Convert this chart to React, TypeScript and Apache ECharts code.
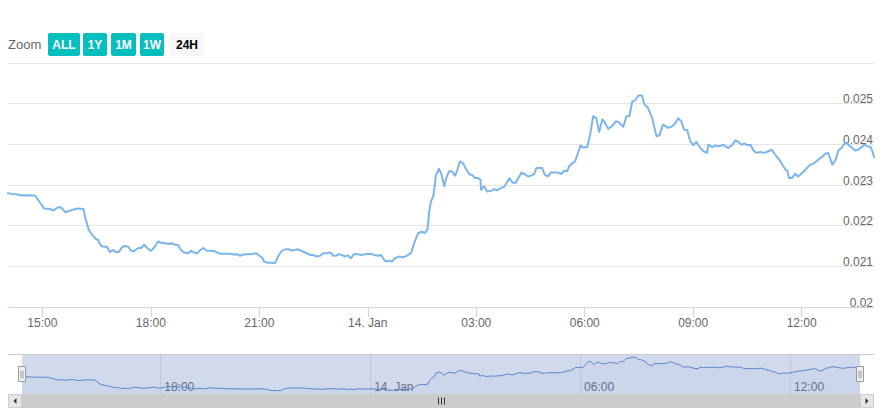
import React, { useEffect, useRef } from "react";
import * as echarts from "echarts";

// ---- data ----
const times = [
  "14:03","14:10","14:18","14:26","14:31","14:43","14:48","14:56","14:59","15:03",
  "15:13","15:18","15:24","15:29","15:33","15:38","15:46","15:54","15:59","16:08",
  "16:12","16:17","16:24","16:29","16:32","16:37","16:42","16:47","16:52","16:57",
  "17:02","17:07","17:12","17:17","17:22","17:27","17:32","17:39","17:44","17:49",
  "17:54","18:00","18:05","18:12","18:17","18:24","18:29","18:35","18:40","18:45",
  "18:50","18:55","19:02","19:07","19:12","19:17","19:22","19:27","19:32","19:38",
  "19:45","19:50","19:55","20:03","20:12","20:17","20:23","20:28","20:33","20:40",
  "20:45","20:50","20:55","21:00","21:05","21:08","21:13","21:21","21:26","21:31",
  "21:36","21:43","21:49","21:54","21:59","22:04","22:11","22:16","22:24","22:29",
  "22:36","22:41","22:46","22:53","22:58","23:03","23:07","23:12","23:17","23:22",
  "23:27","23:32","23:37","23:44","23:49","23:54","00:01","00:07","00:12","00:17",
  "00:22","00:26","00:30","00:35","00:40","00:45","00:52","00:59","01:02","01:07",
  "01:12","01:17","01:20","01:24","01:30","01:35","01:39","01:42","01:45","01:49",
  "01:53","01:58","02:02","02:07","02:10","02:15","02:20","02:25","02:28","02:33",
  "02:38","02:42","02:47","02:50","02:53","02:58","03:03","03:07","03:08","03:13",
  "03:18","03:25","03:30","03:35","03:41","03:46","03:51","03:55","04:00","04:05",
  "04:10","04:15","04:20","04:26","04:31","04:36","04:40","04:44","04:49","04:54",
  "04:59","05:04","05:09","05:14","05:21","05:26","05:31","05:34","05:39","05:44",
  "05:48","05:53","05:57","06:04","06:09","06:14","06:19","06:24","06:29","06:32",
  "06:39","06:46","06:52","06:57","07:04","07:09","07:14","07:19","07:22","07:29",
  "07:35","07:39","07:44","07:52","07:59","08:04","08:10","08:17","08:24","08:30",
  "08:35","08:40","08:45","08:50","08:55","09:00","09:05","09:12","09:17","09:23",
  "09:25","09:32","09:37","09:42","09:50","09:53","09:58","10:05","10:10","10:15",
  "10:20","10:25","10:30","10:35","10:40","10:45","10:51","10:58","11:05","11:10",
  "11:16","11:23","11:28","11:33","11:36","11:39","11:44","11:49","11:54","11:59",
  "12:04","12:09","12:14","12:19","12:24","12:29","12:34","12:39","12:44","12:48",
  "12:51","12:56","13:01","13:06","13:11","13:14","13:19","13:24","13:29","13:34",
  "13:41","13:44","13:49","13:54","13:57","14:00",
];
const values = [
  0.02280,0.02278,0.02277,0.02274,0.02275,0.02274,0.02274,0.02257,0.02251,0.02242,
  0.02241,0.02237,0.02243,0.02246,0.02242,0.02233,0.02237,0.02241,0.02242,0.02241,
  0.02216,0.02190,0.02175,0.02167,0.02166,0.02151,0.02148,0.02148,0.02135,0.02140,
  0.02135,0.02135,0.02147,0.02150,0.02149,0.02139,0.02137,0.02145,0.02145,0.02153,
  0.02145,0.02138,0.02145,0.02161,0.02158,0.02157,0.02155,0.02157,0.02153,0.02153,
  0.02140,0.02134,0.02132,0.02138,0.02134,0.02132,0.02140,0.02145,0.02139,0.02138,
  0.02138,0.02134,0.02131,0.02131,0.02131,0.02129,0.02130,0.02126,0.02129,0.02130,
  0.02130,0.02131,0.02132,0.02126,0.02121,0.02112,0.02109,0.02109,0.02108,0.02124,
  0.02136,0.02142,0.02142,0.02139,0.02140,0.02142,0.02137,0.02134,0.02128,0.02128,
  0.02124,0.02126,0.02132,0.02132,0.02134,0.02126,0.02126,0.02130,0.02128,0.02124,
  0.02127,0.02120,0.02130,0.02130,0.02128,0.02129,0.02131,0.02130,0.02127,0.02126,
  0.02128,0.02118,0.02112,0.02114,0.02112,0.02120,0.02124,0.02122,0.02124,0.02128,
  0.02133,0.02157,0.02169,0.02182,0.02185,0.02182,0.02191,0.02235,0.02260,0.02274,
  0.02323,0.02340,0.02327,0.02297,0.02317,0.02334,0.02333,0.02323,0.02334,0.02358,
  0.02354,0.02342,0.02330,0.02325,0.02325,0.02317,0.02317,0.02313,0.02288,0.02297,
  0.02284,0.02286,0.02290,0.02287,0.02293,0.02295,0.02306,0.02317,0.02306,0.02305,
  0.02317,0.02330,0.02327,0.02321,0.02323,0.02327,0.02342,0.02342,0.02342,0.02325,
  0.02321,0.02331,0.02331,0.02331,0.02327,0.02335,0.02334,0.02346,0.02353,0.02358,
  0.02375,0.02397,0.02393,0.02393,0.02424,0.02469,0.02465,0.02430,0.02461,0.02457,
  0.02438,0.02446,0.02457,0.02454,0.02443,0.02469,0.02469,0.02506,0.02506,0.02520,
  0.02520,0.02498,0.02492,0.02465,0.02420,0.02422,0.02449,0.02441,0.02443,0.02451,
  0.02464,0.02457,0.02436,0.02435,0.02408,0.02398,0.02406,0.02391,0.02383,0.02379,
  0.02399,0.02393,0.02397,0.02395,0.02399,0.02395,0.02391,0.02399,0.02410,0.02406,
  0.02399,0.02402,0.02398,0.02399,0.02385,0.02379,0.02381,0.02379,0.02383,0.02387,
  0.02375,0.02362,0.02350,0.02338,0.02336,0.02317,0.02317,0.02328,0.02321,0.02327,
  0.02334,0.02342,0.02350,0.02352,0.02358,0.02364,0.02369,0.02377,0.02379,0.02362,
  0.02350,0.02361,0.02385,0.02391,0.02402,0.02404,0.02397,0.02391,0.02385,0.02387,
  0.02395,0.02399,0.02395,0.02394,0.02385,0.02369,
];
const rangeTimes = ["14:03", "14:00"]; // 13 Jan 14:03 -> 14 Jan 14:00
const axisTickTimes = ["15:00", "18:00", "21:00", "00:00", "03:00", "06:00", "09:00", "12:00"];
const axisTickLabels = ["15:00", "18:00", "21:00", "14. Jan", "03:00", "06:00", "09:00", "12:00"];
const navTickTimes = ["18:00", "00:00", "06:00", "12:00"];
const navTickLabels = ["18:00", "14. Jan", "06:00", "12:00"];
const yMin = 0.02;
const yMax = 0.026;
const yStep = 0.001;
const zoomLabel = "Zoom";
const zoomButtons = ["ALL", "1Y", "1M", "1W", "24H"];
const selectedButton = "24H";

// minutes since 13 Jan 00:00, rolling over midnight
function toMinutes(list: string[]): number[] {
  let day = 0;
  let prev = -1;
  return list.map((t) => {
    const [h, m] = t.split(":").map(Number);
    const v = h * 60 + m;
    if (v < prev) day++;
    prev = v;
    return v + day * 1440;
  });
}

const FONT = '"Liberation Sans", Arial, Helvetica, sans-serif';

export default function App() {
  const ref = useRef<HTMLDivElement>(null);
  useEffect(() => {
    if (!ref.current) return;
    const chart = echarts.init(ref.current, undefined, { renderer: "svg" });
    const xs = toMinutes(times);
    const data = xs.map((x, i) => [x, values[i]]);
    const [xMin, xMax] = toMinutes(rangeTimes);
    const tickVals = toMinutes(axisTickTimes);
    const navVals = toMinutes(navTickTimes);
    const vMin = Math.min(...values);
    const vMax = Math.max(...values);
    const pad = (vMax - vMin) * 0.1;

    // layout
    const plotL = 8, plotR = 874, plotT = 63, plotB = 307;
    const navL = 22, navR = 860, navT = 354, navH = 40;
    const sbT = navT + navH, sbH = 14;

    const btnX = [48, 83, 111, 140, 170];
    const btnW = [32, 24, 25, 24, 34];
    const btnY = 33, btnH = 23;
    const graphics: any[] = [
      {
        type: "text",
        x: 8,
        y: btnY + btnH / 2,
        style: {
          text: zoomLabel, fill: "#666666", font: `13px ${FONT}`,
          align: "left", verticalAlign: "middle", textAlign: "left", textVerticalAlign: "middle",
        },
      },
    ];
    zoomButtons.forEach((b, i) => {
      const sel = b === selectedButton;
      graphics.push({
        type: "rect",
        shape: { x: btnX[i], y: btnY, width: btnW[i], height: btnH, r: 2 },
        style: { fill: sel ? "#f7f7f7" : "#05bebe" },
      });
      graphics.push({
        type: "text",
        x: btnX[i] + btnW[i] / 2,
        y: btnY + btnH / 2 + 0.5,
        style: {
          text: b, fill: sel ? "#000000" : "#ffffff", font: `bold 12px ${FONT}`,
          align: "center", verticalAlign: "middle", textAlign: "center", textVerticalAlign: "middle",
        },
      });
    });
    // navigator outline & mask
    graphics.push({
      type: "line", z: 12,
      shape: { x1: plotL, y1: navT + 0.5, x2: plotR, y2: navT + 0.5 },
      style: { stroke: "#cccccc", lineWidth: 1 },
    });
    graphics.push({
      type: "rect", z: 10,
      shape: { x: navL, y: navT, width: navR - navL, height: navH },
      style: { fill: "rgba(102,133,194,0.3)" },
    });
    [navL, navR].forEach((hx) => {
      const x = Math.round(hx) + 0.5;
      const y = navT + (navH - 15) / 2;
      graphics.push({
        type: "rect", z: 13,
        shape: { x: x - 4, y, width: 7, height: 15 },
        style: { fill: "#f2f2f2", stroke: "#999999", lineWidth: 1 },
      });
      graphics.push({
        type: "line", z: 14,
        shape: { x1: x - 1.5, y1: y + 4, x2: x - 1.5, y2: y + 12 },
        style: { stroke: "#999999", lineWidth: 1 },
      });
      graphics.push({
        type: "line", z: 14,
        shape: { x1: x + 0.5, y1: y + 4, x2: x + 0.5, y2: y + 12 },
        style: { stroke: "#999999", lineWidth: 1 },
      });
    });
    // scrollbar
    graphics.push({
      type: "rect", z: 10,
      shape: { x: plotL, y: sbT, width: plotR - plotL, height: sbH },
      style: { fill: "#f2f2f2" },
    });
    graphics.push({
      type: "rect", z: 11,
      shape: { x: navL, y: sbT, width: navR - navL, height: sbH },
      style: { fill: "#cccccc" },
    });
    graphics.push({
      type: "rect", z: 11,
      shape: { x: plotL + 0.5, y: sbT + 0.5, width: navL - plotL - 1, height: sbH - 1 },
      style: { fill: "#e6e6e6", stroke: "#cccccc", lineWidth: 1 },
    });
    graphics.push({
      type: "rect", z: 11,
      shape: { x: navR + 0.5, y: sbT + 0.5, width: plotR - navR - 1, height: sbH - 1 },
      style: { fill: "#e6e6e6", stroke: "#cccccc", lineWidth: 1 },
    });
    const lcx = (plotL + navL) / 2, rcx = (navR + plotR) / 2, cy = sbT + sbH / 2;
    graphics.push({
      type: "polygon", z: 12,
      shape: { points: [[lcx + 1.5, cy - 3], [lcx + 1.5, cy + 3], [lcx - 1.5, cy]] },
      style: { fill: "#333333" },
    });
    graphics.push({
      type: "polygon", z: 12,
      shape: { points: [[rcx - 1.5, cy - 3], [rcx - 1.5, cy + 3], [rcx + 1.5, cy]] },
      style: { fill: "#333333" },
    });
    const mid = Math.round((navL + navR) / 2) + 0.5;
    [-3, 0, 3].forEach((d) => {
      graphics.push({
        type: "line", z: 12,
        shape: { x1: mid + d, y1: cy - 3.5, x2: mid + d, y2: cy + 3.5 },
        style: { stroke: "#333333", lineWidth: 1 },
      });
    });

    const fmtY = (v: number) => String(parseFloat(v.toFixed(3)));

    chart.setOption({
      animation: false,
      backgroundColor: "#ffffff",
      textStyle: { fontFamily: FONT },
      grid: [
        { left: plotL, top: plotT, width: plotR - plotL, height: plotB - plotT },
        { left: navL, top: navT, width: navR - navL, height: navH },
      ],
      xAxis: [
        {
          type: "value", gridIndex: 0, min: xMin, max: xMax,
          axisLine: { show: true, lineStyle: { color: "#ccd6eb" } },
          axisTick: { show: true, length: 10, customValues: tickVals, lineStyle: { color: "#ccd6eb" } },
          axisLabel: {
            customValues: tickVals, color: "#666666", fontSize: 12, margin: 10, fontFamily: FONT,
            formatter: (v: number) => axisTickLabels[tickVals.indexOf(v)] ?? "",
          },
          splitLine: { show: false },
        },
        {
          type: "value", gridIndex: 1, min: xMin, max: xMax,
          axisLine: { show: false },
          axisTick: { show: false, customValues: navVals },
          axisLabel: {
            customValues: navVals, inside: true, align: "left", padding: [0, 0, 0, 4],
            margin: 1, color: "#666666", fontSize: 12, fontFamily: FONT,
            formatter: (v: number) => navTickLabels[navVals.indexOf(v)] ?? "",
          },
          splitLine: { show: true, lineStyle: { color: "#e6e6e6", width: 1 } },
        },
      ],
      yAxis: [
        {
          type: "value", gridIndex: 0, position: "right", min: yMin, max: yMax, interval: yStep,
          axisLine: { show: false }, axisTick: { show: false },
          splitLine: { show: true, lineStyle: { color: "#e6e6e6", width: 1 } },
          axisLabel: {
            inside: true, showMaxLabel: false, verticalAlign: "bottom", margin: 1, lineHeight: 9,
            color: "#666666", fontSize: 12, fontFamily: FONT, formatter: fmtY,
          },
        },
        {
          type: "value", gridIndex: 1, min: vMin - pad, max: vMax + pad, show: false,
          splitLine: { show: false },
        },
      ],
      series: [
        {
          type: "line", xAxisIndex: 0, yAxisIndex: 0, data, showSymbol: false,
          lineStyle: { color: "#7cb5ec", width: 2, join: "round", cap: "round" },
          itemStyle: { color: "#7cb5ec" }, z: 3,
        },
        {
          type: "line", xAxisIndex: 1, yAxisIndex: 1, data, showSymbol: false,
          lineStyle: { color: "#4f86d8", width: 1 },
          areaStyle: { color: "#4f86d8", opacity: 0.05, origin: "start" },
          itemStyle: { color: "#4f86d8" }, z: 3,
        },
      ],
      graphic: graphics,
    });
    return () => chart.dispose();
  }, []);
  return (
    <div
      ref={ref}
      style={{ position: "absolute", left: 0, top: 0, width: 882, height: 415, background: "#fff" }}
    />
  );
}
